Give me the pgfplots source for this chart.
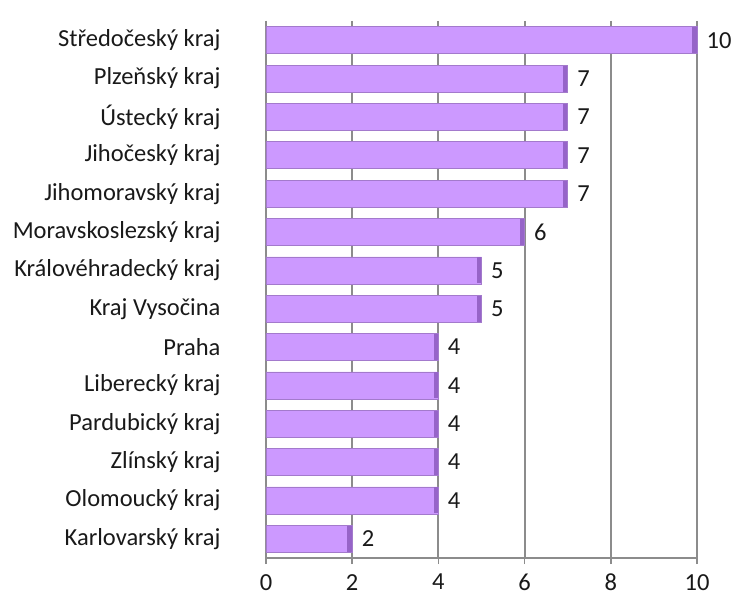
\documentclass[border=0pt]{standalone}
\usepackage{fontspec}
\setmainfont{Carlito}
\usepackage{pgfplots}
\pgfplotsset{compat=1.18}
\definecolor{barfill}{RGB}{204,153,255}
\definecolor{barcap}{RGB}{150,100,200}
\definecolor{gridgray}{RGB}{140,140,140}

\begin{document}
\begin{tikzpicture}
  \begin{axis}[
    name=ax,
    scale only axis,
    width=431pt, height=537pt,
    xmin=0, xmax=10,
    ymin=-0.5, ymax=13.5,
    y dir=reverse,
    axis x line*=bottom,
    axis y line*=left,
    axis line style={gridgray, line width=2.2pt},
    xtick={0,2,...,10},
    xtick align=outside,
    x tick style={gridgray, line width=1.5pt},
    major tick length=6pt,
    xmajorgrids,
    major grid style={gridgray, line width=2.2pt},
    ytick={0,...,13},
    yticklabels={Středočeský kraj, Plzeňský kraj, Ústecký kraj, Jihočeský kraj,
      Jihomoravský kraj, Moravskoslezský kraj, Královéhradecký kraj, Kraj Vysočina,
      Praha, Liberecký kraj, Pardubický kraj, Zlínský kraj, Olomoucký kraj,
      Karlovarský kraj},
    y tick style={draw=none},
    minor ytick={-0.5,0.5,...,13.5},
    minor y tick style={gridgray, line width=1.5pt},
    minor tick length=9pt,
    ytick align=outside,
    tick label style={font=\fontsize{24.5}{28}\selectfont, text=black!90},
    yticklabel style={xshift=-36pt},
    xticklabel style={yshift=-9pt, inner sep=1pt},
    /pgf/number format/assume math mode=true,
    clip=false,
  ]
    \addplot[xbar, bar width=27pt, fill=barfill, draw=barfill!80!black, line width=0.5pt,
      nodes near coords,
      every node near coord/.append style={anchor=west, xshift=6pt,
        font=\fontsize{24.5}{28}\selectfont, text=black!90}]
      coordinates {
        (10,0) (7,1) (7,2) (7,3) (7,4) (6,5) (5,6)
        (5,7) (4,8) (4,9) (4,10) (4,11) (4,12) (2,13)
      };
    \addplot[only marks, mark=|, mark size=13pt,
      mark options={draw=barcap, line width=4.5pt, xshift=-2.5pt}]
      coordinates {
        (10,0) (7,1) (7,2) (7,3) (7,4) (6,5) (5,6)
        (5,7) (4,8) (4,9) (4,10) (4,11) (4,12) (2,13)
      };
  \end{axis}
  \pgfresetboundingbox
  \path (ax.south west) ++(-266pt,-43pt) rectangle ++(733pt,601pt);
\end{tikzpicture}
\end{document}
